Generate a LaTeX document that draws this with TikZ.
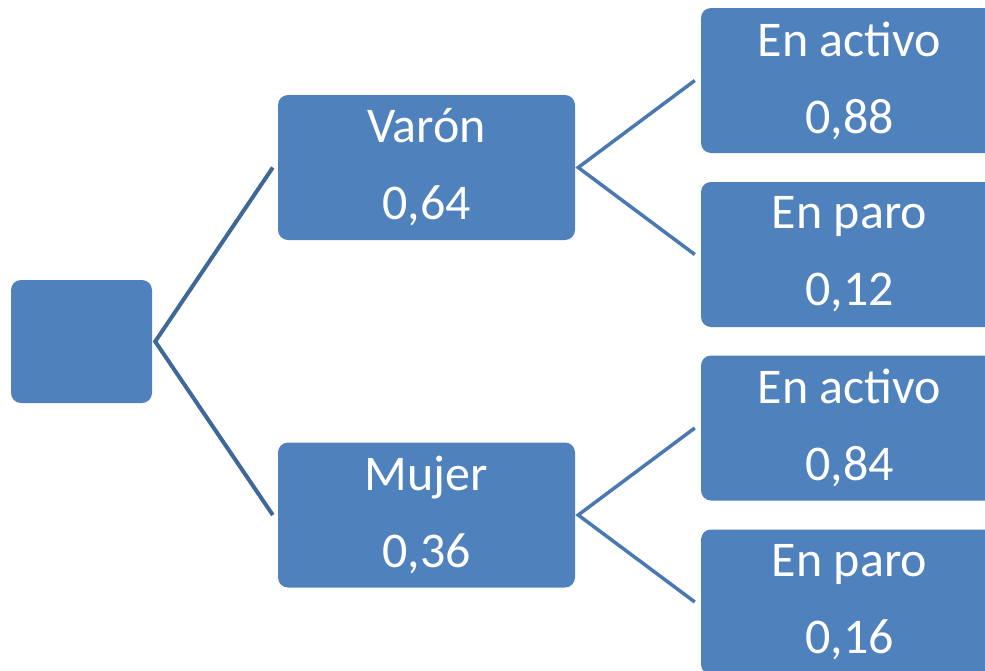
\documentclass[tikz,border=0pt]{standalone}
\usepackage{fontspec}
\setmainfont{Carlito}
\definecolor{boxblue}{HTML}{4F81BD}
\definecolor{rootline}{HTML}{3F6799}
\definecolor{leafline}{HTML}{4A78B2}
\begin{document}
\begin{tikzpicture}[x=1pt,y=-1pt,
  box/.style={draw=none, fill=boxblue, rounded corners=10pt, text=white,
    align=center, font=\fontsize{50}{77}\selectfont, inner sep=0pt},
  wide/.style={box, minimum width=297pt, minimum height=145pt},
  rootconn/.style={draw=rootline, line width=4pt},
  leafconn/.style={draw=leafline, line width=3.5pt}]
\useasboundingbox (0,0) rectangle (985,670);
\clip (0,0) rectangle (985,670);
\node[box, minimum width=141pt, minimum height=123pt] (root) at (81.5,341.5) {};
\node[wide] (v) at (426.5,167.5) {Varón\\0,64};
\node[wide] (m) at (426.5,515) {Mujer\\0,36};
\node[wide] (a1) at (849.5,80.5) {En activo\\0,88};
\node[wide] (p1) at (849.5,254.5) {En paro\\0,12};
\node[wide] (a2) at (849.5,428) {En activo\\0,84};
\node[wide] (p2) at (849.5,602) {En paro\\0,16};
\draw[rootconn] ([xshift=-5pt]v.west) -- ([xshift=3pt]root.east) -- ([xshift=-5pt]m.west);
\draw[leafconn] ([xshift=-6pt]a1.west) -- ([xshift=3pt]v.east) -- ([xshift=-6pt]p1.west);
\draw[leafconn] ([xshift=-6pt]a2.west) -- ([xshift=3pt]m.east) -- ([xshift=-6pt]p2.west);
\end{tikzpicture}
\end{document}
